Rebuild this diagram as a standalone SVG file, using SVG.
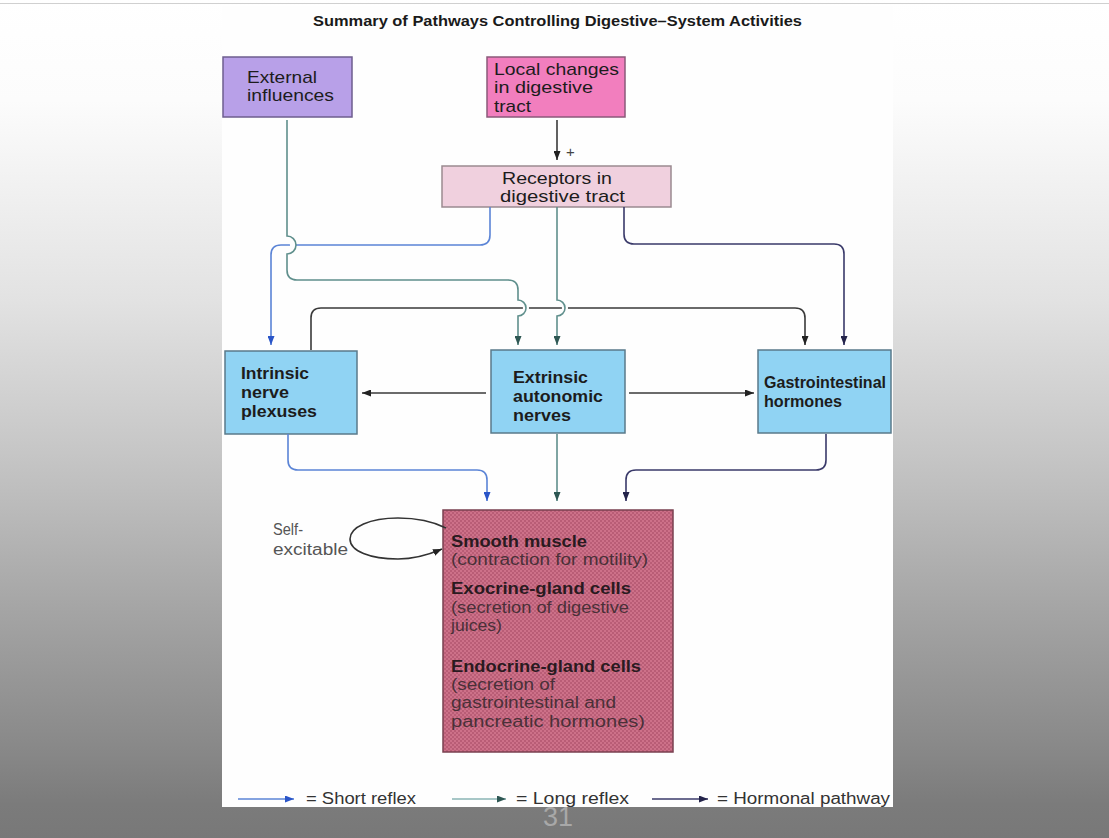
<svg xmlns="http://www.w3.org/2000/svg" width="1109" height="838" viewBox="0 0 1109 838">
<defs>
<linearGradient id="bg" x1="0" y1="0" x2="0" y2="1">
<stop offset="0" stop-color="#ffffff"/>
<stop offset="0.12" stop-color="#fcfcfc"/>
<stop offset="0.36" stop-color="#e2e2e2"/>
<stop offset="0.54" stop-color="#c6c6c6"/>
<stop offset="0.72" stop-color="#a6a6a6"/>
<stop offset="0.9" stop-color="#878787"/>
<stop offset="0.96" stop-color="#7b7b7b"/>
<stop offset="1" stop-color="#787878"/>
</linearGradient>
<pattern id="hatch" x="0" y="0" width="4" height="4" patternUnits="userSpaceOnUse">
<rect width="4" height="4" fill="#cd7189"/>
<rect width="2" height="2" fill="#b95d76"/>
<rect x="2" y="2" width="2" height="2" fill="#b95d76"/>
</pattern>
<marker id="ah-black" viewBox="0 0 9 7" refX="9" refY="3.5" markerWidth="9" markerHeight="7" markerUnits="userSpaceOnUse" orient="auto"><path d="M0,0 L9,3.5 L0,7 z" fill="#222"/></marker>
<marker id="ah-blue" viewBox="0 0 9 7" refX="9" refY="3.5" markerWidth="9" markerHeight="7" markerUnits="userSpaceOnUse" orient="auto"><path d="M0,0 L9,3.5 L0,7 z" fill="#2a55c8"/></marker>
<marker id="ah-teal" viewBox="0 0 9 7" refX="9" refY="3.5" markerWidth="9" markerHeight="7" markerUnits="userSpaceOnUse" orient="auto"><path d="M0,0 L9,3.5 L0,7 z" fill="#2e5753"/></marker>
<marker id="ah-navy" viewBox="0 0 9 7" refX="9" refY="3.5" markerWidth="9" markerHeight="7" markerUnits="userSpaceOnUse" orient="auto"><path d="M0,0 L9,3.5 L0,7 z" fill="#23234a"/></marker>
</defs>
<style>
text { font-family: "Liberation Sans", Arial, sans-serif; }
.t { font-size: 17px; fill: #1c1c1c; }
.tb { font-size: 17px; font-weight: bold; fill: #1c1c1c; }
.tg { font-size: 16px; font-weight: bold; fill: #1c1c1c; }
.sm { font-size: 16px; fill: #4a3038; }
.smb { font-size: 16px; font-weight: bold; fill: #2a1a20; }
.lg { font-size: 16px; fill: #333; }
.se { fill: #555; font-size: 16px; }
.box { stroke-width: 1.5; }
.c { fill: none; stroke-width: 1.6; }
.blue { stroke: #5b84d6; }
.teal { stroke: #5f8f8c; }
.black { stroke: #3a3a3a; }
.navy { stroke: #3a3a6a; }
.halo { fill: none; stroke: #fefefe; stroke-width: 6; }
</style>

<g id="background">
<rect x="0" y="0" width="1109" height="838" fill="url(#bg)"/>
<line x1="0" y1="3.5" x2="1109" y2="3.5" stroke="#d0d0d0" stroke-width="1"/>
<rect x="222" y="6" width="671" height="801" fill="#fefefe"/>
<text x="313" y="26" font-size="15" font-weight="bold" fill="#1a1a1a" textLength="489" lengthAdjust="spacingAndGlyphs">Summary of Pathways Controlling Digestive–System Activities</text>
</g>

<g id="node-external">
<rect class="box" x="223" y="57" width="129" height="60" fill="#b8a0e8" stroke="#6e5e8e"/>
<text class="t" x="247" y="83" textLength="70" lengthAdjust="spacingAndGlyphs">External</text>
<text class="t" x="247" y="101" textLength="87" lengthAdjust="spacingAndGlyphs">influences</text>
</g>

<g id="node-local">
<rect class="box" x="487" y="57" width="138" height="60" fill="#f27ebe" stroke="#8a5a7a"/>
<text class="t" x="494" y="75" textLength="125" lengthAdjust="spacingAndGlyphs">Local changes</text>
<text class="t" x="494" y="93" textLength="99" lengthAdjust="spacingAndGlyphs">in digestive</text>
<text class="t" x="494" y="112" textLength="37" lengthAdjust="spacingAndGlyphs">tract</text>
</g>

<g id="node-receptors">
<rect class="box" x="442" y="166" width="229" height="41" fill="#f0d0de" stroke="#9a8a90"/>
<text class="t" x="502" y="184" textLength="110" lengthAdjust="spacingAndGlyphs">Receptors in</text>
<text class="t" x="500" y="202" textLength="125" lengthAdjust="spacingAndGlyphs">digestive tract</text>
</g>

<g id="node-intrinsic">
<rect class="box" x="225" y="351" width="132" height="83" fill="#90d3f3" stroke="#5a7a8a"/>
<text class="tb" x="241" y="379" textLength="68" lengthAdjust="spacingAndGlyphs">Intrinsic</text>
<text class="tb" x="241" y="398" textLength="48" lengthAdjust="spacingAndGlyphs">nerve</text>
<text class="tb" x="241" y="417" textLength="76" lengthAdjust="spacingAndGlyphs">plexuses</text>
</g>

<g id="node-extrinsic">
<rect class="box" x="491" y="350" width="134" height="83" fill="#90d3f3" stroke="#5a7a8a"/>
<text class="tb" x="513" y="383" textLength="75" lengthAdjust="spacingAndGlyphs">Extrinsic</text>
<text class="tb" x="513" y="402" textLength="90" lengthAdjust="spacingAndGlyphs">autonomic</text>
<text class="tb" x="513" y="421" textLength="58" lengthAdjust="spacingAndGlyphs">nerves</text>
</g>

<g id="node-gi-hormones">
<rect class="box" x="758" y="350" width="133" height="83" fill="#90d3f3" stroke="#5a7a8a"/>
<text class="tg" x="764" y="388" textLength="122" lengthAdjust="spacingAndGlyphs">Gastrointestinal</text>
<text class="tg" x="764" y="407" textLength="78" lengthAdjust="spacingAndGlyphs">hormones</text>
</g>

<g id="node-effectors">
<rect x="443" y="510" width="230" height="242" fill="url(#hatch)" stroke="#7a4050" stroke-width="1.5"/>
<text class="smb" x="451" y="547" textLength="136" lengthAdjust="spacingAndGlyphs">Smooth muscle</text>
<text class="sm" x="451" y="565" textLength="197" lengthAdjust="spacingAndGlyphs">(contraction for motility)</text>
<text class="smb" x="451" y="594" textLength="180" lengthAdjust="spacingAndGlyphs">Exocrine-gland cells</text>
<text class="sm" x="451" y="613" textLength="178" lengthAdjust="spacingAndGlyphs">(secretion of digestive</text>
<text class="sm" x="451" y="631" textLength="51" lengthAdjust="spacingAndGlyphs">juices)</text>
<text class="smb" x="451" y="672" textLength="190" lengthAdjust="spacingAndGlyphs">Endocrine-gland cells</text>
<text class="sm" x="451" y="690" textLength="104" lengthAdjust="spacingAndGlyphs">(secretion of</text>
<text class="sm" x="451" y="708" textLength="165" lengthAdjust="spacingAndGlyphs">gastrointestinal and</text>
<text class="sm" x="451" y="727" textLength="194" lengthAdjust="spacingAndGlyphs">pancreatic hormones)</text>
</g>

<g id="label-self-excitable">
<text class="se" x="273" y="535" textLength="30" lengthAdjust="spacingAndGlyphs">Self-</text>
<text class="se" x="273" y="555" textLength="75" lengthAdjust="spacingAndGlyphs">excitable</text>
</g>

<g id="connectors">
<!-- local changes to receptors -->
<path class="c black" d="M557,120 V160" marker-end="url(#ah-black)"/>
<text x="566" y="157" font-size="15" fill="#444">+</text>
<!-- short reflex: receptors to intrinsic -->
<path class="c blue" d="M490,207 V235 Q490,245 480,245 H281 Q271,245 271,255 V345" marker-end="url(#ah-blue)"/>
<!-- intrinsic to GI hormones -->
<path class="c black" d="M311,350 V318 Q311,308 321,308 H795 Q805,308 805,318 V345" marker-end="url(#ah-black)"/>
<!-- hormonal: receptors to GI hormones -->
<path class="c navy" d="M624,207 V234 Q624,244 634,244 H834 Q844,244 844,254 V345" marker-end="url(#ah-navy)"/>
<!-- halos for hops -->
<path class="halo" d="M287,237 A9,9 0 0 1 287,254"/>
<path class="halo" d="M518,300 A8,8 0 0 1 518,316"/>
<path class="halo" d="M557,300 A8,8 0 0 1 557,316"/>
<!-- long reflex: external to extrinsic -->
<path class="c teal" d="M287,120 V236 A9,9 0 0 1 287,254 V270 Q287,280 297,280 H508 Q518,280 518,290 V300 A8,8 0 0 1 518,316 V345" marker-end="url(#ah-teal)"/>
<!-- long reflex: receptors to extrinsic -->
<path class="c teal" d="M557,207 V300 A8,8 0 0 1 557,316 V345" marker-end="url(#ah-teal)"/>
<!-- extrinsic to intrinsic / GI hormones -->
<path class="c black" d="M486,393 H362" marker-end="url(#ah-black)"/>
<path class="c black" d="M629,393 H754" marker-end="url(#ah-black)"/>
<!-- to effectors -->
<path class="c blue" d="M288,434 V460 Q288,470 298,470 H477 Q487,470 487,480 V501" marker-end="url(#ah-blue)"/>
<path class="c teal" d="M557,434 V501" marker-end="url(#ah-teal)"/>
<path class="c navy" d="M826,434 V460 Q826,470 816,470 H636 Q626,470 626,480 V501" marker-end="url(#ah-navy)"/>
<!-- self-excitable loop -->
<path class="c" stroke="#333" stroke-width="1.8" d="M446,528 C430,520 415,518 398,518 C370,518 350,527 350,539 C350,551 370,559 398,559 C415,559 428,555 442,549" marker-end="url(#ah-black)"/>
</g>

<g id="legend">
<path class="c" stroke="#5b84d6" d="M238,799 H294" marker-end="url(#ah-blue)"/>
<text class="lg" x="306" y="804" textLength="110" lengthAdjust="spacingAndGlyphs">= Short reflex</text>
<path class="c" stroke="#8ab4b4" d="M452,799 H506" marker-end="url(#ah-teal)"/>
<text class="lg" x="516" y="804" textLength="113" lengthAdjust="spacingAndGlyphs">= Long reflex</text>
<path class="c" stroke="#3a3a6a" d="M652,799 H708" marker-end="url(#ah-navy)"/>
<text class="lg" x="717" y="804" textLength="173" lengthAdjust="spacingAndGlyphs">= Hormonal pathway</text>
</g>

<g id="page-number">
<text x="558" y="826" font-size="27" fill="#a8a8a8" text-anchor="middle">31</text>
</g>
</svg>
